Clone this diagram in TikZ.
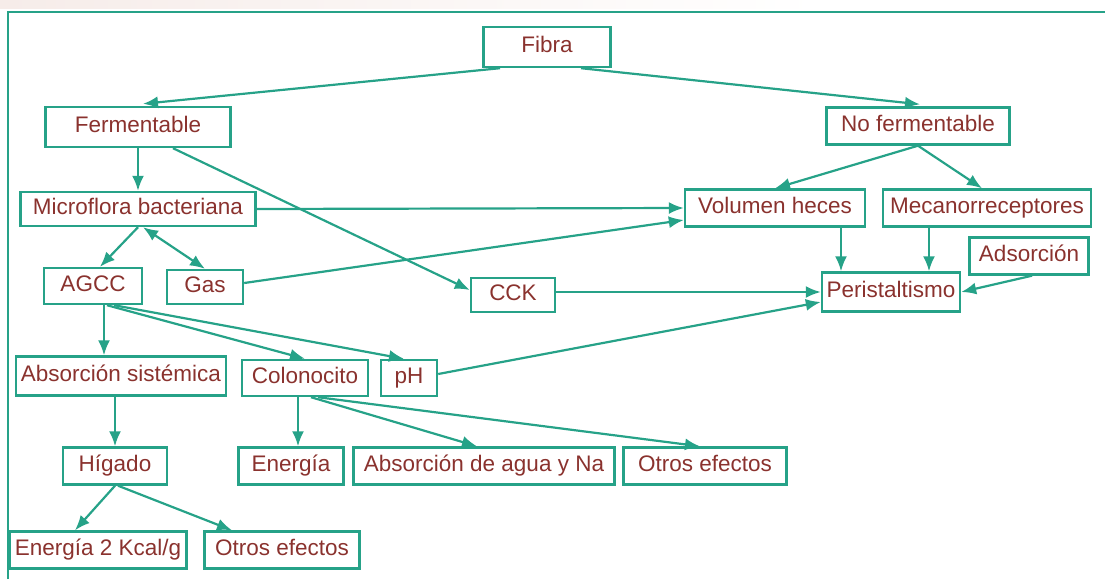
\documentclass[tikz,border=0pt]{standalone}
\usepackage{fontspec}
\setmainfont{Liberation Sans}
\usepackage{tikz}
\usetikzlibrary{arrows.meta,calc,positioning}
\definecolor{fibteal}{RGB}{38,162,136}
\definecolor{fibtext}{RGB}{138,50,46}
\definecolor{fibband}{RGB}{246,236,233}

\begin{document}
\begin{tikzpicture}[x=1pt, y=-1pt,
        box/.style={draw=fibteal, line width=2.4pt, inner sep=0pt, text=fibtext,
          font=\fontsize{22.5}{24}\selectfont, text height=16pt, text depth=4.5pt},
        link/.style={draw=fibteal, line width=2.2pt, -{Latex[length=15pt,width=12pt]}}]
        \useasboundingbox (0,0) rectangle (1105,579);
        \shade [left color=fibband, right color=white] (0,0) rectangle (820,8);
        \draw [fibteal, line width=2.4pt] (8,579) -- (8,12) -- (1105,12);

        % first levels
        \node[box, minimum width=127pt, minimum height=40pt] (fibra) at (547,47) {Fibra};
        \node[box, minimum width=185pt, minimum height=40pt] (ferm) at (138,127) {Fermentable};
        \node[box, minimum width=183pt, minimum height=37pt] (noferm) at (918,126) {No fermentable};
        \node[box, minimum width=235pt, minimum height=34pt] (micro) at (138,209) {Microflora bacteriana};
        \node[box, minimum width=180pt, minimum height=37pt] (vol) at (775,208) {Volumen heces};
        \node[box, minimum width=208pt, minimum height=37pt] (meca) at (987,208) {Mecanorreceptores};
        \node[box, minimum width=119pt, minimum height=37pt] (ads) at (1029,256) {Adsorción};
        \node[box, minimum width=138pt, minimum height=39pt] (peri) at (891,292) {Peristaltismo};
        \node[box, minimum width=98pt, minimum height=36pt] (agcc) at (93,286) {AGCC};
        \node[box, minimum width=76pt, minimum height=34pt] (gas) at (205,287) {Gas};
        \node[box, minimum width=84pt, minimum height=34pt] (cck) at (513,295) {CCK};

        % lower levels
        \node[box, minimum width=210pt, minimum height=39pt] (abs) at (121,376) {Absorción sistémica};
        \node[box, minimum width=126pt, minimum height=36pt] (colono) at (305,378) {Colonocito};
        \node[box, minimum width=56pt, minimum height=36pt] (ph) at (409,378) {pH};
        \node[box, minimum width=104pt, minimum height=37pt] (hig) at (115,466) {Hígado};
        \node[box, minimum width=105pt, minimum height=37pt] (ener) at (291,466) {Energía};
        \node[box, minimum width=261pt, minimum height=37pt] (agua) at (484,466) {Absorción de agua y Na};
        \node[box, minimum width=163pt, minimum height=37pt] (otrosa) at (705,466) {Otros efectos};
        \node[box, minimum width=177pt, minimum height=37pt] (kcal) at (98,550) {Energía 2 Kcal/g};
        \node[box, minimum width=155pt, minimum height=37pt] (otrosb) at (282,550) {Otros efectos};

        \draw [link] ([xshift=-47pt]fibra.south) -- ([xshift=5pt, yshift=2pt]ferm.north);
        \draw [link] ([xshift=34pt]fibra.south) -- ([xshift=2pt, yshift=2pt]noferm.north);
        \draw [link] (ferm.south) -- (micro.north);
        \draw [link] ([xshift=35pt]ferm.south) -- ([yshift=5pt]cck.west);
        \draw [link] (micro.south) -- ([xshift=7pt]agcc.north);
        \draw [link, {Latex[length=15pt,width=12pt]}-{Latex[length=15pt,width=12pt]}] ([xshift=5pt]micro.south) -- (gas.north);
        \draw [link] (micro.east) -- (vol.west);
        \draw [link] ([yshift=4pt]gas.east) -- ([yshift=-12pt]vol.west);
        \draw [link] (noferm.south) -- (vol.north);
        \draw [link] (noferm.south) -- ([xshift=-5pt]meca.north);
        \draw [link] ([xshift=66pt]vol.south) -- ([xshift=66pt]vol.south |- peri.north);
        \draw [link] ([xshift=-58pt]meca.south) -- ([xshift=-58pt]meca.south |- peri.north);
        \draw [link] ([xshift=3pt]ads.south) -- (peri.east);
        \draw [link] (cck.east |- peri.west) -- (peri.west);
        \draw [link] ([yshift=4pt]ph.east) -- ([yshift=-10pt]peri.west);
        \draw [link] ([xshift=11pt]agcc.south) -- ([xshift=11pt]agcc.south |- abs.north);
        \draw [link] ([xshift=14pt]agcc.south) -- (colono.north);
        \draw [link] ([xshift=21pt]agcc.south) -- ([xshift=-5pt]ph.north);
        \draw [link] (abs.south -| hig.north) -- (hig.north);
        \draw [link] ([xshift=-7pt]colono.south) -- ([xshift=-7pt]colono.south |- ener.north);
        \draw [link] ([xshift=6pt]colono.south) -- ([xshift=-7pt]agua.north);
        \draw [link] ([xshift=13pt]colono.south) -- ([xshift=-5pt]otrosa.north);
        \draw [link] (hig.south) -- ([xshift=-23pt]kcal.north);
        \draw [link] ([xshift=3pt]hig.south) -- ([xshift=-50pt]otrosb.north);
\end{tikzpicture}
\end{document}
